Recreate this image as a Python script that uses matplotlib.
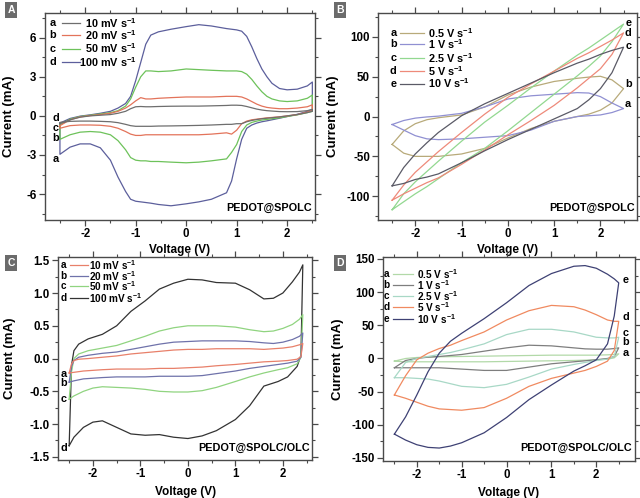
import matplotlib
matplotlib.use("Agg")
import matplotlib.pyplot as plt
from matplotlib.ticker import MultipleLocator

plt.rcParams.update({
    "font.family": ["Liberation Sans", "DejaVu Sans"],
    "font.weight": "bold",
    "font.size": 8,
    "axes.unicode_minus": False,
    "mathtext.fontset": "custom",
    "mathtext.rm": "Liberation Sans:bold",
    "mathtext.bf": "Liberation Sans:bold",
    "mathtext.default": "bf",
})

# ---- panel A: PEDOT@SPOLC, slow scan rates (mA) ----
va = [-2.5, -2.3, -2.1, -1.9, -1.7, -1.5, -1.35, -1.2, -1.1, -1.0, -0.9, -0.8, -0.7, -0.55, -0.3, 0.0,
      0.25, 0.5, 0.8, 0.9, 1.0, 1.1, 1.2, 1.3, 1.4, 1.5, 1.6, 1.7, 1.85, 2.0, 2.2, 2.4, 2.5]
a_10_up = [-0.6, -0.3, -0.1, 0.0, 0.05, 0.1, 0.2, 0.35, 0.55, 0.7, 0.72, 0.7, 0.7, 0.72, 0.74, 0.75,
           0.75, 0.77, 0.8, 0.82, 0.82, 0.8, 0.72, 0.62, 0.52, 0.45, 0.4, 0.37, 0.33, 0.32, 0.33, 0.4, 0.5]
a_10_dn = [-0.5, -0.42, -0.4, -0.4, -0.42, -0.45, -0.52, -0.65, -0.75, -0.8, -0.8, -0.8, -0.8, -0.78, -0.77, -0.75,
           -0.73, -0.7, -0.65, -0.65, -0.6, -0.6, -0.45, -0.35, -0.28, -0.22, -0.18, -0.14, -0.08, 0.0, 0.1, 0.25, 0.35]
a_20_up = [-0.75, -0.3, -0.08, 0.02, 0.1, 0.2, 0.35, 0.6, 0.85, 1.15, 1.4, 1.3, 1.3, 1.35, 1.4, 1.45,
           1.45, 1.45, 1.5, 1.5, 1.5, 1.45, 1.3, 1.1, 0.9, 0.75, 0.65, 0.6, 0.55, 0.55, 0.6, 0.7, 0.85]
a_20_dn = [-0.95, -0.75, -0.7, -0.7, -0.72, -0.8, -0.95, -1.2, -1.4, -1.5, -1.5, -1.45, -1.45, -1.45, -1.45, -1.45,
           -1.45, -1.4, -1.3, -1.4, -1.1, -0.6, -0.4, -0.3, -0.25, -0.2, -0.15, -0.12, -0.07, 0.0, 0.1, 0.3, 0.45]
a_50_up = [-0.7, -0.25, -0.05, 0.05, 0.15, 0.25, 0.4, 0.75, 1.3, 2.2, 3.0, 3.45, 3.45, 3.4, 3.45, 3.6,
           3.55, 3.5, 3.45, 3.45, 3.45, 3.4, 3.2, 2.8, 2.3, 1.85, 1.5, 1.3, 1.15, 1.1, 1.15, 1.35, 1.6]
a_50_dn = [-1.8, -1.45, -1.25, -1.2, -1.25, -1.45, -1.9, -2.6, -3.2, -3.4, -3.45, -3.45, -3.5, -3.5, -3.55, -3.6,
           -3.55, -3.45, -3.3, -2.8, -2.2, -1.2, -0.7, -0.5, -0.4, -0.32, -0.27, -0.22, -0.15, -0.05, 0.08, 0.25, 0.35]
a_100_up = [-0.55, -0.2, -0.02, 0.08, 0.2, 0.35, 0.6, 0.95, 1.5, 2.7, 4.1, 5.5, 6.2, 6.45, 6.65, 6.85,
            7.0, 6.9, 6.7, 6.65, 6.6, 6.5, 6.1, 5.3, 4.4, 3.6, 3.0, 2.5, 2.1, 2.0, 2.05, 2.3, 2.6]
a_100_dn = [-2.95, -2.4, -2.15, -2.15, -2.45, -3.4, -4.7, -5.8, -6.4, -6.55, -6.6, -6.65, -6.7, -6.8, -6.9, -6.75,
            -6.6, -6.4, -5.9, -5.0, -3.3, -1.8, -0.95, -0.7, -0.55, -0.45, -0.38, -0.3, -0.18, -0.05, 0.12, 0.35, 0.5]

# ---- panel B: PEDOT@SPOLC, fast scan rates (mA) ----
vb = [-2.5, -2.25, -2.0, -1.75, -1.5, -1.0, -0.5, 0.0, 0.5, 1.0, 1.5, 1.75, 2.0, 2.25, 2.5]
b_05_up = [-35, -18, -9, -4, -1.5, 2, 12, 27, 37, 44, 48, 49.5, 50.5, 46, 35]
b_05_dn = [-35, -46, -50, -50, -50, -47, -40, -27, -15, -6, 0, 3, 8, 17, 35]
b_1_up = [-10, -5, -2, -0.5, 0.5, 4, 12, 22, 26, 28, 30, 29.5, 25, 17, 10]
b_1_dn = [-10, -17, -24, -28, -29, -28, -26, -24, -17, -6, 0, 1, 2, 5, 10]
b_25_up = [-117, -97, -82, -69, -56, -31, -7, 14, 36, 57, 77, 86, 96, 106, 116]
b_25_dn = [-117, -107, -97, -88, -78, -58, -40, -18, 5, 28, 51, 63, 76, 94, 116]
b_5_up = [-105, -86, -70, -57, -44, -20, 3, 24, 41, 57, 73, 80, 88, 96, 105]
b_5_dn = [-105, -97, -90, -83, -77, -60, -42, -23, -5, 14, 36, 48, 60, 78, 105]
b_10_up = [-87, -64, -47, -33, -20, 1, 16, 29, 42, 55, 67, 72, 78, 83, 87]
b_10_dn = [-87, -84, -79, -76, -72, -58, -43, -29, -16, -3, 10, 21, 35, 55, 87]

# ---- panel C: PEDOT@SPOLC/OLC, slow scan rates (mA) ----
vc_up = [-2.5, -2.45, -2.4, -2.3, -2.1, -1.8, -1.5, -1.2, -0.9, -0.6, -0.3, 0.0, 0.3, 0.6, 1.0, 1.3,
         1.6, 1.8, 2.0, 2.2, 2.35, 2.42]
vc_dn = [-2.5, -2.4, -2.2, -2.0, -1.8, -1.5, -1.2, -0.9, -0.6, -0.3, 0.0, 0.3, 0.6, 1.0, 1.3, 1.6,
         1.9, 2.1, 2.3, 2.38, 2.42]
c_10_up = [-0.22, -0.08, -0.03, -0.01, 0.0, 0.02, 0.04, 0.07, 0.09, 0.11, 0.13, 0.14, 0.14, 0.15, 0.15, 0.15,
           0.14, 0.15, 0.16, 0.18, 0.21, 0.23]
c_10_dn = [-0.22, -0.21, -0.19, -0.18, -0.17, -0.16, -0.16, -0.16, -0.15, -0.15, -0.14, -0.13, -0.11, -0.09,
           -0.07, -0.05, -0.04, -0.03, -0.01, 0.03, 0.23]
c_20_up = [-0.36, -0.12, -0.03, 0.02, 0.05, 0.08, 0.1, 0.14, 0.18, 0.22, 0.25, 0.26, 0.27, 0.27, 0.27, 0.26,
           0.24, 0.23, 0.25, 0.29, 0.34, 0.39]
c_20_dn = [-0.36, -0.34, -0.31, -0.3, -0.29, -0.28, -0.28, -0.28, -0.27, -0.27, -0.27, -0.26, -0.23, -0.19,
           -0.15, -0.12, -0.09, -0.07, -0.04, 0.02, 0.39]
c_50_up = [-0.62, -0.2, 0.0, 0.07, 0.12, 0.16, 0.2, 0.27, 0.34, 0.42, 0.47, 0.5, 0.5, 0.5, 0.48, 0.44,
           0.41, 0.42, 0.46, 0.52, 0.6, 0.67]
c_50_dn = [-0.62, -0.57, -0.5, -0.45, -0.43, -0.44, -0.45, -0.47, -0.5, -0.51, -0.51, -0.49, -0.44, -0.35,
           -0.28, -0.22, -0.17, -0.14, -0.08, 0.02, 0.67]
c_100_up = [-1.33, -0.1, 0.12, 0.22, 0.3, 0.37, 0.5, 0.72, 0.88, 1.06, 1.15, 1.21, 1.2, 1.16, 1.15, 1.05,
            0.91, 0.92, 1.0, 1.17, 1.32, 1.43]
c_100_dn = [-1.33, -1.2, -1.05, -0.97, -0.95, -1.05, -1.15, -1.17, -1.16, -1.2, -1.22, -1.18, -1.1, -0.93,
            -0.72, -0.42, -0.35, -0.28, -0.12, 0.05, 1.43]

# ---- panel D: PEDOT@SPOLC/OLC, fast scan rates (mA) ----
vd = [-2.5, -2.25, -2.0, -1.75, -1.5, -1.25, -1.0, -0.5, 0.0, 0.5, 1.0, 1.5, 1.75, 2.0, 2.25, 2.4, 2.5]
d_05_up = [-4, 0, 1.5, 2, 2.5, 2.8, 3, 3.5, 4, 4.5, 5, 5, 5, 5, 5.5, 6, 7]
d_05_dn = [-4, -5, -5, -5, -5, -5, -5, -5, -4.5, -4, -3.5, -3, -2.5, -2, -1, 1, 7]
d_1_up = [-14, -3, 0, 2, 3, 4.5, 6, 11, 16, 20, 19, 16, 14.5, 14, 14, 15, 16]
d_1_dn = [-14, -14, -14, -14, -14, -15, -16, -18, -18, -13, -8, -5, -3.5, -2, 0, 3, 16]
d_25_up = [-29, -6, 0, 3, 6, 9, 13, 22, 36, 44, 44, 40, 36, 32, 31, 31, 32]
d_25_dn = [-29, -29, -30, -31, -34, -38, -42, -44, -39, -28, -16, -9, -6, -3, -1, 3, 32]
d_5_up = [-55, -26, -2, 8, 15, 20, 27, 40, 58, 72, 80, 78, 73, 66, 58, 56, 56]
d_5_dn = [-55, -60, -66, -72, -76, -77, -78, -74, -60, -42, -30, -22, -18, -12, -4, 12, 56]
d_10_up = [-114, -88, -55, -20, 8, 26, 38, 60, 84, 110, 128, 139, 140, 136, 127, 120, 114]
d_10_dn = [-114, -123, -130, -134, -135, -132, -127, -112, -89, -62, -40, -19, -11, -2, 22, 64, 114]

slow_labels = ["10 mV s$^{-1}$", "20 mV s$^{-1}$", "50 mV s$^{-1}$", "100 mV s$^{-1}$"]
fast_labels = ["0.5 V s$^{-1}$", "1 V s$^{-1}$", "2.5 V s$^{-1}$", "5 V s$^{-1}$", "10 V s$^{-1}$"]
letters = ["a", "b", "c", "d", "e"]

fig = plt.figure(figsize=(6.4, 4.98), dpi=100)
ax_a = fig.add_axes([0.070, 0.558, 0.422, 0.416])
ax_b = fig.add_axes([0.591, 0.558, 0.405, 0.416])
ax_c = fig.add_axes([0.091, 0.076, 0.397, 0.408])
ax_d = fig.add_axes([0.598, 0.075, 0.394, 0.409])


def loop(ax, v_up, i_up, v_dn, i_dn, color):
    x = list(v_up) + list(v_dn[::-1]) + [v_up[0]]
    y = list(i_up) + list(i_dn[::-1]) + [i_up[0]]
    ax.plot(x, y, color=color, lw=0.9, solid_joinstyle="round")


def style(ax, xlim, ylim, ymaj, ymin, ylab_x, xlab_y, tag):
    ax.set_xlim(*xlim)
    ax.set_ylim(*ylim)
    ax.xaxis.set_major_locator(MultipleLocator(1))
    ax.xaxis.set_minor_locator(MultipleLocator(0.5))
    ax.yaxis.set_major_locator(MultipleLocator(ymaj))
    ax.yaxis.set_minor_locator(MultipleLocator(ymin))
    for sp in ax.spines.values():
        sp.set_color("#4a4a4a")
        sp.set_linewidth(1.0)
    ax.tick_params(which="both", direction="out", color="#4a4a4a", labelsize=8.3, pad=2)
    ax.tick_params(which="major", length=4, width=0.9)
    ax.tick_params(which="minor", length=2.5, width=0.8)
    ax.tick_params(which="both", top=True, right=True)
    for t in ax.get_xticklabels() + ax.get_yticklabels():
        t.set_fontweight("bold")
    ax.set_xlabel("Voltage (V)", fontsize=8.5, fontweight="bold")
    ax.set_ylabel("Current (mA)", fontsize=9.5, fontweight="bold")
    ax.yaxis.set_label_coords(ylab_x, 0.5)
    ax.xaxis.set_label_coords(0.5, xlab_y)
    ax.text(0.99, 0.06, tag, transform=ax.transAxes, ha="right", va="center",
            fontsize=7.8, fontweight="bold")


def legend(ax, labels, colors, x_letter, x0, x1, x_text, rows, text_ha="left", size=7.8):
    for lab, col, let, yy in zip(labels, colors, letters, rows):
        ax.text(x_letter, yy, let, transform=ax.transAxes, ha="center", va="center",
                fontsize=size, fontweight="bold")
        ax.plot([x0, x1], [yy, yy], transform=ax.transAxes, color=col, lw=0.9)
        ax.text(x_text, yy, lab, transform=ax.transAxes, ha=text_ha, va="center",
                fontsize=size, fontweight="bold")


def panel_tag(x, y, letter):
    fig.text(x, y, letter, ha="center", va="center", color="white", fontsize=7.5,
             fontweight="bold",
             bbox=dict(boxstyle="square,pad=0.25", facecolor="#6b6b6b", edgecolor="none"))


# Panel A
cols_a = ["#6e6e6e", "#e3735a", "#6dc25a", "#5c5f9c"]
loop(ax_a, va, a_100_up, va, a_100_dn, cols_a[3])
loop(ax_a, va, a_50_up, va, a_50_dn, cols_a[2])
loop(ax_a, va, a_20_up, va, a_20_dn, cols_a[1])
loop(ax_a, va, a_10_up, va, a_10_dn, cols_a[0])
style(ax_a, (-2.8, 2.55), (-8.0, 7.9), 3, 1.5, -0.112, -0.115, "PEDOT@SPOLC")
legend(ax_a, slow_labels, cols_a, 0.03, 0.065, 0.13, 0.34, [0.95, 0.892, 0.828, 0.765], "right")
for let, i in zip(["d", "c", "b", "a"], [-0.2, -0.95, -1.7, -3.3]):
    ax_a.text(-2.58, i, let, ha="center", va="center", fontsize=7.8, fontweight="bold")

# Panel B
cols_b = ["#b8aa7a", "#9090d2", "#92d890", "#ee8a7a", "#5a5a66"]
loop(ax_b, vb, b_05_up, vb, b_05_dn, cols_b[0])
loop(ax_b, vb, b_1_up, vb, b_1_dn, cols_b[1])
loop(ax_b, vb, b_25_up, vb, b_25_dn, cols_b[2])
loop(ax_b, vb, b_5_up, vb, b_5_dn, cols_b[3])
loop(ax_b, vb, b_10_up, vb, b_10_dn, cols_b[4])
style(ax_b, (-2.8, 2.8), (-130, 130), 50, 25, -0.15, -0.115, "PEDOT@SPOLC")
legend(ax_b, fast_labels, cols_b, 0.058, 0.085, 0.175, 0.193, [0.904, 0.851, 0.784, 0.721, 0.659])
for let, i in zip(["e", "d", "c", "b", "a"], [118, 105, 89, 41, 16]):
    ax_b.text(2.6, i, let, ha="center", va="center", fontsize=7.8, fontweight="bold")

# Panel C
cols_c = ["#e8806a", "#6f72aa", "#90d480", "#333333"]
loop(ax_c, vc_up, c_100_up, vc_dn, c_100_dn, cols_c[3])
loop(ax_c, vc_up, c_50_up, vc_dn, c_50_dn, cols_c[2])
loop(ax_c, vc_up, c_20_up, vc_dn, c_20_dn, cols_c[1])
loop(ax_c, vc_up, c_10_up, vc_dn, c_10_dn, cols_c[0])
style(ax_c, (-2.73, 2.62), (-1.55, 1.55), 0.5, 0.25, -0.165, -0.125, "PEDOT@SPOLC/OLC")
legend(ax_c, slow_labels, cols_c, 0.02, 0.047, 0.118, 0.122, [0.962, 0.908, 0.855, 0.8], size=7.2)
for let, i in zip(["a", "b", "c", "d"], [-0.23, -0.38, -0.61, -1.37]):
    ax_c.text(-2.62, i, let, ha="center", va="center", fontsize=7.8, fontweight="bold")

# Panel D
cols_d = ["#b2d9a8", "#7e7e7e", "#a8d8c6", "#f08a60", "#3e4174"]
loop(ax_d, vd, d_05_up, vd, d_05_dn, cols_d[0])
loop(ax_d, vd, d_1_up, vd, d_1_dn, cols_d[1])
loop(ax_d, vd, d_25_up, vd, d_25_dn, cols_d[2])
loop(ax_d, vd, d_5_up, vd, d_5_dn, cols_d[3])
loop(ax_d, vd, d_10_up, vd, d_10_dn, cols_d[4])
style(ax_d, (-2.76, 2.86), (-154, 153), 50, 25, -0.155, -0.13, "PEDOT@SPOLC/OLC")
legend(ax_d, fast_labels, cols_d, 0.015, 0.04, 0.12, 0.134, [0.915, 0.862, 0.81, 0.752, 0.694], size=7.2)
for let, i in zip(["e", "d", "c", "b", "a"], [118, 62, 38, 25, 8]):
    ax_d.text(2.66, i, let, ha="center", va="center", fontsize=7.8, fontweight="bold")

panel_tag(11 / 640, 1 - 10 / 498, "A")
panel_tag(340 / 640, 1 - 10 / 498, "B")
panel_tag(11 / 640, 1 - 263 / 498, "C")
panel_tag(340 / 640, 1 - 263 / 498, "D")

fig.savefig("out.png", dpi=100)
